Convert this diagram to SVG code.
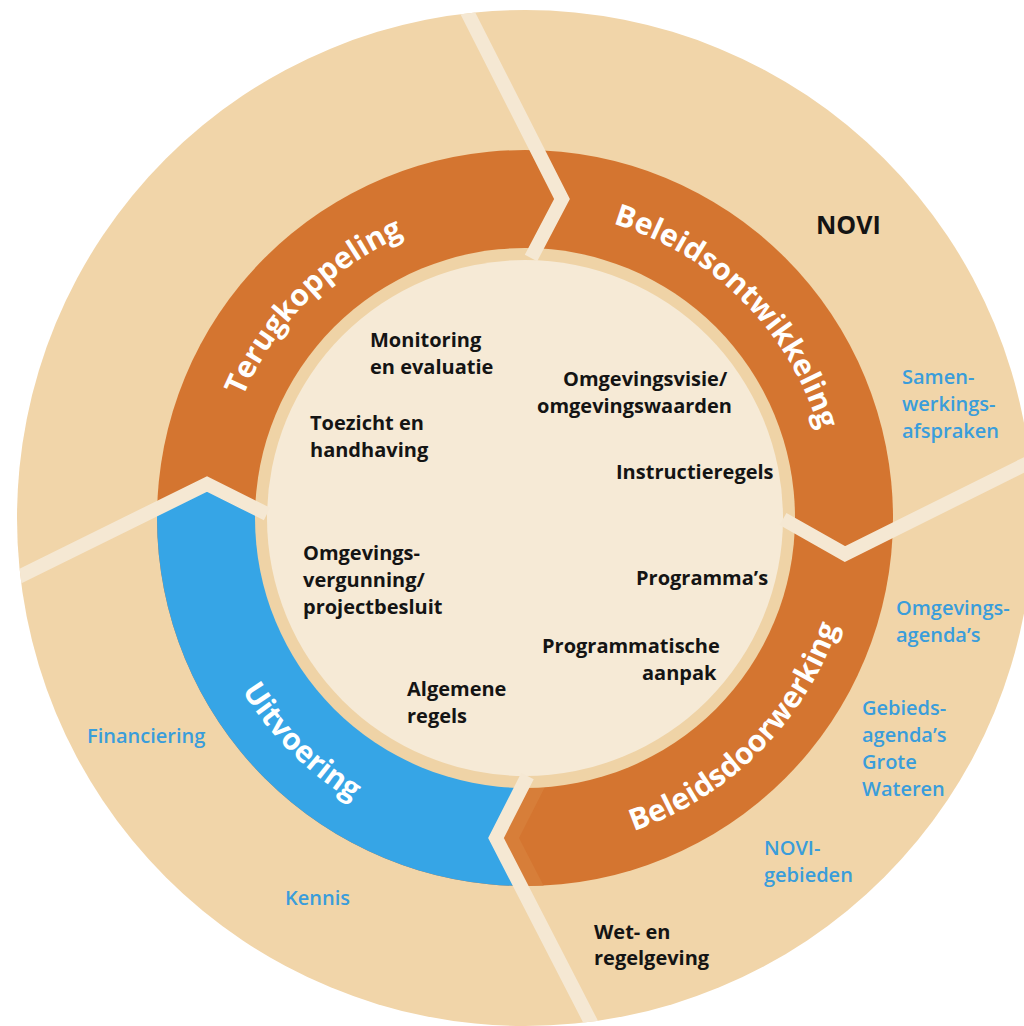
<svg xmlns="http://www.w3.org/2000/svg" width="1024" height="1026" viewBox="0 0 1024 1026">
<defs>
<style>
.ring{font-family:"Open Sans","Liberation Sans",sans-serif;font-weight:700;font-size:30px;fill:#ffffff}
.t{font-family:"Open Sans","Liberation Sans",sans-serif;font-weight:700;font-size:20px;fill:#141414}
.b{font-family:"Open Sans","Liberation Sans",sans-serif;font-weight:600;font-size:20px;fill:#3A9DDB}
.novi{font-family:"Open Sans","Liberation Sans",sans-serif;font-weight:700;font-size:25px;fill:#141414}
.div{fill:none;stroke:#F5E8D3;stroke-width:14;stroke-linejoin:miter;stroke-miterlimit:10}
</style>
<clipPath id="outerClip"><circle cx="525" cy="518" r="508"/></clipPath>
<clipPath id="ringClip"><circle cx="525" cy="518" r="368"/></clipPath>
<path id="arcTerug" d="M 273.5 694.1 A 307 307 0 0 1 701.1 266.5"/>
<path id="arcOntw" d="M 348.9 266.5 A 307 307 0 0 1 776.5 694.1"/>
<path id="arcDoor" d="M 335.1 789.2 A 331 331 0 0 0 796.2 328.1"/>
<path id="arcUitv" d="M 253.8 328.1 A 331 331 0 0 0 714.9 789.2"/>
</defs>
<rect width="1024" height="1026" fill="#ffffff"/>
<g id="background">
<circle cx="525" cy="518" r="508" fill="#F1D5A9"/>
</g>
<g id="ring">
<circle cx="525" cy="518" r="368" fill="#D47530"/>
<polygon clip-path="url(#ringClip)" fill="#36A5E6" points="525,518 527.5,776 496,838 543,929 100,1000 -10,700 -10,591 207,484 267,514"/>
<polygon clip-path="url(#ringClip)" fill="#D77E39" points="527.5,776 496,838 543,929 566,929 519,838 550.5,776"/>
<circle cx="525" cy="518" r="270" fill="#EFD3A6"/>
<circle cx="525" cy="518" r="258" fill="#F6EAD6"/>
</g>
<g id="connectors" clip-path="url(#outerClip)">
<polyline class="div" points="456,-10 562,199 531,258"/>
<polyline class="div" points="1040,457 845,554 783,519"/>
<polyline class="div" points="527.5,776 496,838 600,1040"/>
<polyline class="div" points="-10,591 207,484 267,514"/>
</g>
<g id="node-terugkoppeling">
<text class="ring"><textPath href="#arcTerug" startOffset="50%" text-anchor="middle">Terugkoppeling</textPath></text>
<text class="t" x="370" y="347">Monitoring</text>
<text class="t" x="370" y="374">en evaluatie</text>
<text class="t" x="310" y="430">Toezicht en</text>
<text class="t" x="310" y="457">handhaving</text>
</g>
<g id="node-beleidsontwikkeling">
<text class="ring"><textPath href="#arcOntw" startOffset="50%" text-anchor="middle">Beleidsontwikkeling</textPath></text>
<text class="t" x="563" y="386">Omgevingsvisie/</text>
<text class="t" x="537" y="413">omgevingswaarden</text>
<text class="t" x="616" y="479">Instructieregels</text>
<text class="novi" x="816" y="234">NOVI</text>
<text class="b" x="902" y="384">Samen-</text>
<text class="b" x="902" y="411">werkings-</text>
<text class="b" x="902" y="438">afspraken</text>
</g>
<g id="node-beleidsdoorwerking">
<text class="ring"><textPath href="#arcDoor" startOffset="50%" text-anchor="middle">Beleidsdoorwerking</textPath></text>
<text class="t" x="636" y="585">Programma’s</text>
<text class="t" x="542" y="653">Programmatische</text>
<text class="t" x="642" y="680">aanpak</text>
<text class="b" x="896" y="615">Omgevings-</text>
<text class="b" x="896" y="642">agenda’s</text>
<text class="b" x="862" y="715">Gebieds-</text>
<text class="b" x="862" y="742">agenda’s</text>
<text class="b" x="862" y="769">Grote</text>
<text class="b" x="862" y="796">Wateren</text>
<text class="b" x="764" y="855">NOVI-</text>
<text class="b" x="764" y="882">gebieden</text>
<text class="t" x="594" y="939">Wet- en</text>
<text class="t" x="594" y="965">regelgeving</text>
</g>
<g id="node-uitvoering">
<text class="ring"><textPath href="#arcUitv" startOffset="50%" text-anchor="middle">Uitvoering</textPath></text>
<text class="t" x="303" y="560">Omgevings-</text>
<text class="t" x="303" y="587">vergunning/</text>
<text class="t" x="303" y="614">projectbesluit</text>
<text class="t" x="407" y="696">Algemene</text>
<text class="t" x="407" y="723">regels</text>
<text class="b" x="87" y="743">Financiering</text>
<text class="b" x="285" y="905">Kennis</text>
</g>
</svg>
